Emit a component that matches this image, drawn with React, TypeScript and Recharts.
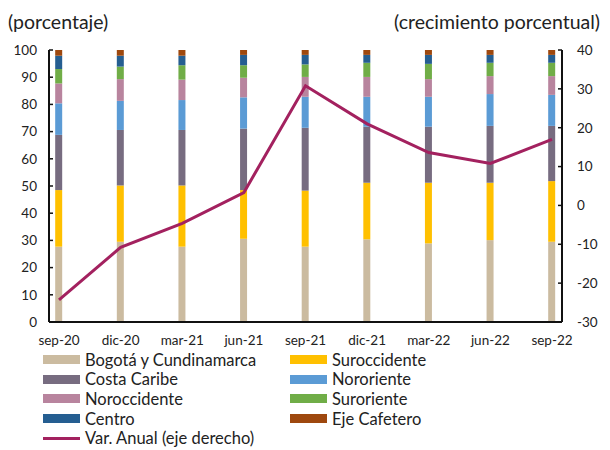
import { ComposedChart, Bar, Line, XAxis, YAxis } from 'recharts';

const categories = ['sep-20', 'dic-20', 'mar-21', 'jun-21', 'sep-21', 'dic-21', 'mar-22', 'jun-22', 'sep-22'];

const bogota = [27.7, 29.5, 27.7, 30.6, 27.7, 30.4, 28.9, 30.1, 29.5];
const suroccidente = [20.8, 20.7, 22.5, 17.9, 20.6, 20.8, 22.3, 21.1, 22.3];
const costaCaribe = [20.3, 20.4, 20.4, 22.6, 23.1, 20.6, 20.6, 20.9, 20.3];
const nororiente = [11.6, 10.7, 11.0, 11.5, 11.4, 11.0, 11.0, 11.7, 11.4];
const noroccidente = [7.3, 8.0, 7.5, 7.2, 7.3, 7.3, 6.5, 6.6, 6.9];
const suroriente = [5.3, 4.6, 5.3, 4.6, 4.6, 5.2, 5.6, 4.9, 4.9];
const centro = [4.9, 4.0, 3.5, 3.8, 3.5, 2.9, 3.3, 2.9, 2.9];
const ejeCafetero = [2.1, 2.1, 2.1, 1.8, 1.8, 1.8, 1.8, 1.8, 1.8];
const varAnual = [-24.3, -10.8, -4.6, 3.3, 30.8, 21.0, 13.6, 10.8, 17.0];

const leftTicks = [0, 10, 20, 30, 40, 50, 60, 70, 80, 90, 100];
const rightTicks = [-30, -20, -10, 0, 10, 20, 30, 40];

const series = [
  { key: 'bogota', name: 'Bogotá y Cundinamarca', color: '#CBBBA0', values: bogota },
  { key: 'suroccidente', name: 'Suroccidente', color: '#FFC000', values: suroccidente },
  { key: 'costaCaribe', name: 'Costa Caribe', color: '#776C80', values: costaCaribe },
  { key: 'nororiente', name: 'Nororiente', color: '#5B9BD5', values: nororiente },
  { key: 'noroccidente', name: 'Noroccidente', color: '#B8849E', values: noroccidente },
  { key: 'suroriente', name: 'Suroriente', color: '#70AD47', values: suroriente },
  { key: 'centro', name: 'Centro', color: '#255E91', values: centro },
  { key: 'ejeCafetero', name: 'Eje Cafetero', color: '#9E480E', values: ejeCafetero },
];

const lineColor = '#A3215F';
const font = 'Lato, "Open Sans", sans-serif';

const data = categories.map((cat, i) => {
  const row: Record<string, string | number> = { i, cat, varAnual: varAnual[i] };
  series.forEach((s) => {
    row[s.key] = s.values[i];
  });
  return row;
});

// tick marks sit a little left of each bar, like the original
const markTicks = categories.slice(1).map((_, i) => i + 1 - 0.18);
const xDomain = [-0.1623, categories.length - 1 + 0.1623];

const tickStyle = { fill: '#222', fontSize: 13.5, fontFamily: font };

export default function App() {
  const legendRows = [...series.map((s) => ({ name: s.name, color: s.color, line: false })), { name: 'Var. Anual (eje derecho)', color: lineColor, line: true }];

  return (
    <div style={{ position: 'absolute', left: 0, top: 0, width: 610, height: 450, background: '#fff', fontFamily: font }}>
      <div style={{ position: 'absolute', left: 8, top: 10, fontSize: 19.5, color: '#222' }}>(porcentaje)</div>
      <div style={{ position: 'absolute', right: 10, top: 10, fontSize: 19.5, color: '#222' }}>(crecimiento porcentual)</div>
      <ComposedChart width={610} height={355} data={data} margin={{ top: 50, right: 8, bottom: 13, left: 0 }}>
        <XAxis
          xAxisId="cat"
          type="number"
          dataKey="i"
          domain={xDomain}
          allowDataOverflow
          ticks={categories.map((_, i) => i)}
          tickFormatter={(v) => categories[v] ?? ''}
          interval={0}
          tickLine={false}
          axisLine={{ stroke: '#111', strokeWidth: 2 }}
          height={20}
          tickMargin={7}
          tick={tickStyle}
        />
        <XAxis
          xAxisId="marks"
          type="number"
          dataKey="i"
          domain={xDomain}
          allowDataOverflow
          ticks={markTicks}
          tickFormatter={() => ''}
          interval={0}
          mirror
          axisLine={false}
          tickLine={{ stroke: '#111', strokeWidth: 1.5 }}
          tickSize={5}
          height={0}
        />
        <YAxis
          yAxisId="left"
          domain={[0, 100]}
          ticks={leftTicks}
          interval={0}
          width={49}
          tickSize={-4}
          tickMargin={16}
          axisLine={{ stroke: '#111', strokeWidth: 2 }}
          tickLine={{ stroke: '#111', strokeWidth: 1.5 }}
          tick={tickStyle}
        />
        <YAxis
          yAxisId="right"
          orientation="right"
          domain={[-30, 40]}
          ticks={rightTicks}
          interval={0}
          width={40}
          tickSize={-4}
          tickMargin={19}
          axisLine={{ stroke: '#111', strokeWidth: 2 }}
          tickLine={{ stroke: '#111', strokeWidth: 1.5 }}
          tick={tickStyle}
        />
        {series.map((s) => (
          <Bar
            key={s.key}
            xAxisId="cat"
            yAxisId="left"
            dataKey={s.key}
            name={s.name}
            stackId="a"
            fill={s.color}
            barSize={7}
            isAnimationActive={false}
          />
        ))}
        <Line
          xAxisId="cat"
          yAxisId="right"
          dataKey="varAnual"
          name="Var. Anual (eje derecho)"
          stroke={lineColor}
          strokeWidth={3}
          dot={false}
          isAnimationActive={false}
        />
      </ComposedChart>
      <div style={{ position: 'absolute', left: 43, top: 350, width: 560, display: 'grid', gridTemplateColumns: '247px 300px', rowGap: 0 }}>
        {legendRows.map((r) => (
          <div key={r.name} style={{ display: 'flex', alignItems: 'center', height: 19.6, fontSize: 16.5, color: '#222' }}>
            <span
              style={{
                display: 'inline-block',
                width: 37,
                height: r.line ? 3 : 9,
                background: r.color,
                marginRight: 5,
              }}
            />
            {r.name}
          </div>
        ))}
      </div>
    </div>
  );
}
